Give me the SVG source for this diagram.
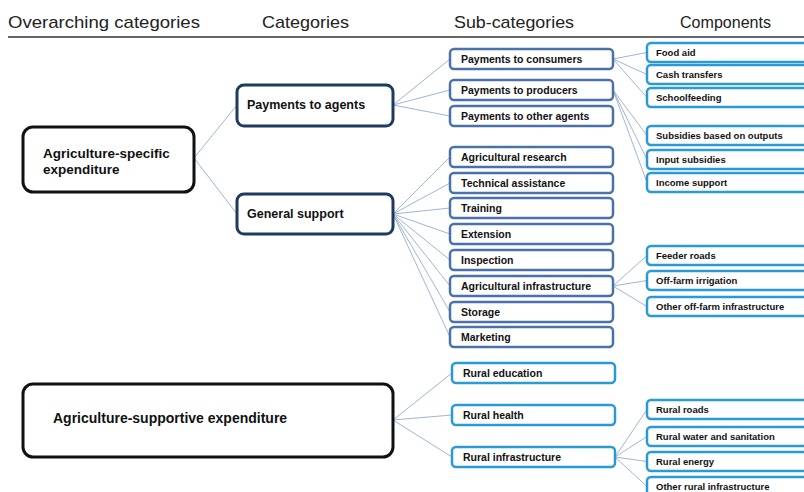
<svg xmlns="http://www.w3.org/2000/svg" width="804" height="492" viewBox="0 0 804 492">
<style>
text{font-family:"Liberation Sans",Arial,sans-serif;font-weight:bold;fill:#111}
.hdr{font-weight:normal;font-size:17px;fill:#222}
.over{fill:#fff;stroke:#111;stroke-width:3}
.cat{fill:#fff;stroke:#1f3a60;stroke-width:3}
.sub{fill:#fff;stroke:#4a72a8;stroke-width:2.5}
.cyan{fill:#fff;stroke:#2a9ad6;stroke-width:2.5}
.t12{font-size:13.5px}
.t13{font-size:12.5px}
.t10{font-size:10.5px}
.t9{font-size:9.5px}
#connectors line{stroke:#9fb6d4;stroke-width:1}
</style>
<rect width="804" height="492" fill="#fff"/>
<g id="header">
<text class="hdr" x="8" y="28" textLength="192" lengthAdjust="spacingAndGlyphs">Overarching categories</text>
<text class="hdr" x="262" y="28" textLength="87" lengthAdjust="spacingAndGlyphs">Categories</text>
<text class="hdr" x="454" y="28" textLength="120" lengthAdjust="spacingAndGlyphs">Sub-categories</text>
<text class="hdr" x="680" y="28" textLength="91" lengthAdjust="spacingAndGlyphs">Components</text>
<line x1="8" y1="37" x2="804" y2="37" stroke="#333" stroke-width="1.5"/>
</g>
<g id="connectors">
<line x1="194" y1="158" x2="237" y2="105"/>
<line x1="194" y1="158" x2="237" y2="214"/>
<line x1="393" y1="105" x2="450" y2="59"/>
<line x1="393" y1="105" x2="450" y2="90"/>
<line x1="393" y1="105" x2="450" y2="116"/>
<line x1="393" y1="214" x2="450" y2="157"/>
<line x1="393" y1="214" x2="450" y2="183"/>
<line x1="393" y1="214" x2="450" y2="208"/>
<line x1="393" y1="214" x2="450" y2="234"/>
<line x1="393" y1="214" x2="450" y2="260"/>
<line x1="393" y1="214" x2="450" y2="286"/>
<line x1="393" y1="214" x2="450" y2="312"/>
<line x1="393" y1="214" x2="450" y2="337"/>
<line x1="393" y1="420" x2="452" y2="373"/>
<line x1="393" y1="420" x2="452" y2="415"/>
<line x1="393" y1="420" x2="452" y2="457"/>
<line x1="613" y1="59" x2="647" y2="52.5"/>
<line x1="613" y1="59" x2="647" y2="74.5"/>
<line x1="613" y1="59" x2="647" y2="97.5"/>
<line x1="613" y1="90" x2="647" y2="135.5"/>
<line x1="613" y1="90" x2="647" y2="159.5"/>
<line x1="613" y1="90" x2="647" y2="182.5"/>
<line x1="613" y1="286" x2="647" y2="255.5"/>
<line x1="613" y1="286" x2="647" y2="280.5"/>
<line x1="613" y1="286" x2="647" y2="306.5"/>
<line x1="615" y1="457" x2="647" y2="409.5"/>
<line x1="615" y1="457" x2="647" y2="436.5"/>
<line x1="615" y1="457" x2="647" y2="461.5"/>
<line x1="615" y1="457" x2="647" y2="486.5"/>
</g>
<g id="agri-specific"><rect class="over" x="23" y="127" width="171" height="65" rx="10"/><text class="t12" x="43" y="158">Agriculture-specific</text><text class="t12" x="43" y="174">expenditure</text></g>
<g id="agri-supportive"><rect class="over" x="23" y="384" width="370" height="73" rx="10"/><text class="t12" x="53" y="423" style="font-size:14px">Agriculture-supportive expenditure</text></g>
<g id="payments-agents"><rect class="cat" x="237" y="85" width="156" height="41" rx="7"/><text class="t13" x="247" y="109">Payments to agents</text></g>
<g id="general-support"><rect class="cat" x="237" y="194" width="156" height="40" rx="7"/><text class="t13" x="247" y="218">General support</text></g>
<g id="pay-consumers"><rect class="sub" x="450" y="49" width="163" height="20" rx="4"/><text class="t10" x="461" y="63">Payments to consumers</text></g>
<g id="pay-producers"><rect class="sub" x="450" y="80" width="163" height="20" rx="4"/><text class="t10" x="461" y="94">Payments to producers</text></g>
<g id="pay-other"><rect class="sub" x="450" y="106" width="163" height="20" rx="4"/><text class="t10" x="461" y="120">Payments to other agents</text></g>
<g id="agri-research"><rect class="sub" x="450" y="147" width="163" height="20" rx="4"/><text class="t10" x="461" y="161">Agricultural research</text></g>
<g id="tech-assist"><rect class="sub" x="450" y="173" width="163" height="20" rx="4"/><text class="t10" x="461" y="187">Technical assistance</text></g>
<g id="training"><rect class="sub" x="450" y="198" width="163" height="20" rx="4"/><text class="t10" x="461" y="212">Training</text></g>
<g id="extension"><rect class="sub" x="450" y="224" width="163" height="20" rx="4"/><text class="t10" x="461" y="238">Extension</text></g>
<g id="inspection"><rect class="sub" x="450" y="250" width="163" height="20" rx="4"/><text class="t10" x="461" y="264">Inspection</text></g>
<g id="agri-infra"><rect class="sub" x="450" y="276" width="163" height="20" rx="4"/><text class="t10" x="461" y="290">Agricultural infrastructure</text></g>
<g id="storage"><rect class="sub" x="450" y="302" width="163" height="20" rx="4"/><text class="t10" x="461" y="316">Storage</text></g>
<g id="marketing"><rect class="sub" x="450" y="327" width="163" height="20" rx="4"/><text class="t10" x="461" y="341">Marketing</text></g>
<g id="rural-education"><rect class="cyan" x="452" y="363" width="163" height="20" rx="4"/><text class="t10" x="463" y="377">Rural education</text></g>
<g id="rural-health"><rect class="cyan" x="452" y="405" width="163" height="20" rx="4"/><text class="t10" x="463" y="419">Rural health</text></g>
<g id="rural-infra"><rect class="cyan" x="452" y="447" width="163" height="20" rx="4"/><text class="t10" x="463" y="461">Rural infrastructure</text></g>
<g id="food-aid"><rect class="cyan" x="647" y="43" width="170" height="19" rx="4"/><text class="t9" x="656" y="56">Food aid</text></g>
<g id="cash-transfers"><rect class="cyan" x="647" y="65" width="170" height="19" rx="4"/><text class="t9" x="656" y="78">Cash transfers</text></g>
<g id="schoolfeeding"><rect class="cyan" x="647" y="88" width="170" height="19" rx="4"/><text class="t9" x="656" y="101">Schoolfeeding</text></g>
<g id="subsidies-outputs"><rect class="cyan" x="647" y="126" width="170" height="19" rx="4"/><text class="t9" x="656" y="139">Subsidies based on outputs</text></g>
<g id="input-subsidies"><rect class="cyan" x="647" y="150" width="170" height="19" rx="4"/><text class="t9" x="656" y="163">Input subsidies</text></g>
<g id="income-support"><rect class="cyan" x="647" y="173" width="170" height="19" rx="4"/><text class="t9" x="656" y="186">Income support</text></g>
<g id="feeder-roads"><rect class="cyan" x="647" y="246" width="170" height="19" rx="4"/><text class="t9" x="656" y="259">Feeder roads</text></g>
<g id="off-farm-irrigation"><rect class="cyan" x="647" y="271" width="170" height="19" rx="4"/><text class="t9" x="656" y="284">Off-farm irrigation</text></g>
<g id="other-off-farm"><rect class="cyan" x="647" y="297" width="170" height="19" rx="4"/><text class="t9" x="656" y="310">Other off-farm infrastructure</text></g>
<g id="rural-roads"><rect class="cyan" x="647" y="400" width="170" height="19" rx="4"/><text class="t9" x="656" y="413">Rural roads</text></g>
<g id="rural-water"><rect class="cyan" x="647" y="427" width="170" height="19" rx="4"/><text class="t9" x="656" y="440">Rural water and sanitation</text></g>
<g id="rural-energy"><rect class="cyan" x="647" y="452" width="170" height="19" rx="4"/><text class="t9" x="656" y="465">Rural energy</text></g>
<g id="other-rural"><rect class="cyan" x="647" y="477" width="170" height="19" rx="4"/><text class="t9" x="656" y="490">Other rural infrastructure</text></g>
</svg>
